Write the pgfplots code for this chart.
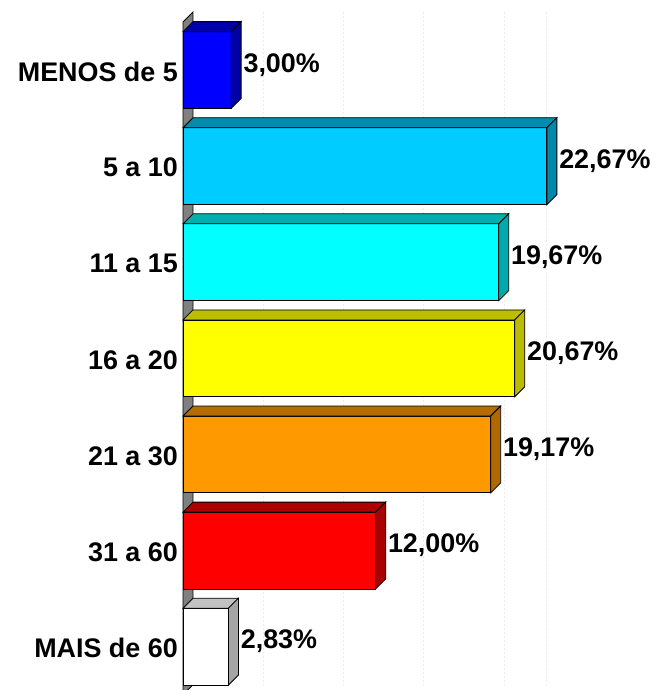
\documentclass[border=0pt]{standalone}
\usepackage{pgfplots}
\pgfplotsset{compat=1.18}
\usepackage{pgfplotstable}
\usepackage{fontspec}
\setmainfont{Liberation Sans}
\definecolor{f0}{RGB}{0,0,255}\definecolor{s0}{RGB}{0,0,165}\definecolor{t0}{RGB}{0,0,170}
\definecolor{f1}{RGB}{0,204,255}\definecolor{s1}{RGB}{0,136,170}\definecolor{t1}{RGB}{0,140,175}
\definecolor{f2}{RGB}{0,255,255}\definecolor{s2}{RGB}{0,170,170}\definecolor{t2}{RGB}{0,175,175}
\definecolor{f3}{RGB}{255,255,0}\definecolor{s3}{RGB}{187,187,0}\definecolor{t3}{RGB}{190,190,0}
\definecolor{f4}{RGB}{255,153,0}\definecolor{s4}{RGB}{176,104,0}\definecolor{t4}{RGB}{180,108,0}
\definecolor{f5}{RGB}{255,0,0}\definecolor{s5}{RGB}{170,0,0}\definecolor{t5}{RGB}{175,0,0}
\definecolor{f6}{RGB}{255,255,255}\definecolor{s6}{RGB}{165,165,165}\definecolor{t6}{RGB}{195,195,195}
\definecolor{wallc}{RGB}{128,128,128}
\definecolor{gridc}{RGB}{236,236,236}
\pgfplotstableread{
idx val
0 3.00
1 22.67
2 19.67
3 20.67
4 19.17
5 12.00
6 2.83
}\datatable
\pgfplotsset{valuelabels/.style={nodes near coords={\pgfmathprintnumber[fixed,fixed zerofill,precision=2,use comma]{\pgfplotspointmeta}\%},
  point meta=x,
  every node near coord/.style={anchor=west, inner sep=0pt, xshift=12bp, yshift=5bp, font=\fontsize{27}{31}\selectfont\bfseries, text=black}}}
\begin{document}
\begin{tikzpicture}
\begin{axis}[at={(183bp,-4.7bp)}, anchor=south west, scale only axis,
  width=449.4bp, height=672.7bp,
  xmin=0, xmax=28, ymin=-0.5, ymax=6.5, y dir=reverse, clip=false,
  axis line style={draw=none}, tick style={draw=none},
  xtick=\empty, ytick={0,...,6},
  yticklabels={MENOS de 5,5 a 10,11 a 15,16 a 20,21 a 30,31 a 60,MAIS de 60},
  yticklabel style={anchor=east, inner sep=0pt, xshift=-5bp, yshift=-1.5bp, font=\fontsize{27}{31}\selectfont\bfseries},
  no markers,
  /pgf/number format/assume math mode=true]
\addplot[fill=wallc, draw=black, line width=0.8bp] coordinates {(0,-0.5) (0.623,-0.604) (0.623,6.396) (0,6.5)} -- cycle;
\pgfplotsinvokeforeach{5,10,15,20,22.67}{
  \addplot[gridc, dash pattern=on 2bp off 2bp, line width=0.8bp] coordinates {(#1,-0.604) (#1,6.396)};
}
\pgfplotsinvokeforeach{0,...,6}{
  \pgfplotstablegetelem{#1}{val}\of\datatable
  \pgfmathsetmacro\v{\pgfplotsretval}
  \pgfmathsetmacro\vd{\v+0.623}
  \pgfmathsetmacro\ya{#1-0.4}
  \pgfmathsetmacro\yb{#1+0.4}
  \pgfmathsetmacro\yc{#1-0.504}
  \pgfmathsetmacro\yd{#1+0.296}
  \edef\temp{%
   \noexpand\addplot[xbar, bar shift=0pt, bar width=0.8, fill=f#1, draw=black, line width=0.8bp, valuelabels] coordinates {(\v,#1)};
   \noexpand\addplot[fill=t#1, draw=black, line width=0.8bp] coordinates {(0,\ya) (\v,\ya) (\vd,\yc) (0.623,\yc)} -- cycle;
   \noexpand\addplot[fill=s#1, draw=black, line width=0.8bp] coordinates {(\v,\ya) (\vd,\yc) (\vd,\yd) (\v,\yb)} -- cycle;
  }\temp
}
\end{axis}
\pgfresetboundingbox
\path[use as bounding box] (0,0) rectangle (656bp,690bp);
\end{tikzpicture}
\end{document}
